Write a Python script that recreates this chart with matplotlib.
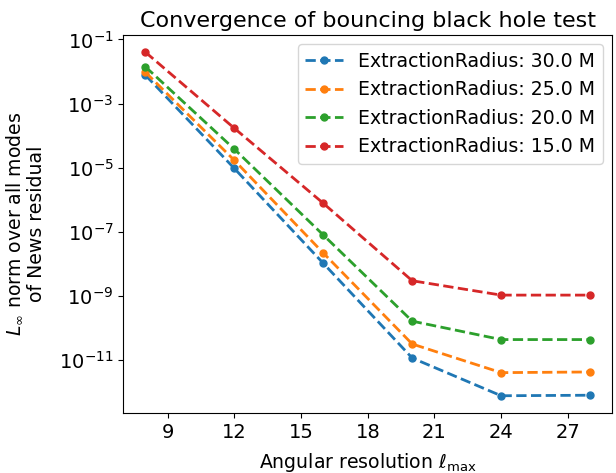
import matplotlib
matplotlib.use("Agg")
import matplotlib.pyplot as plt

plt.rcParams["font.size"] = 13.6
plt.rcParams["xtick.labelsize"] = 14
plt.rcParams["ytick.labelsize"] = 14

lmax = [8, 12, 16, 20, 24, 28]
radii = ["30.0", "25.0", "20.0", "15.0"]
residuals = {
    "30.0": [7.7e-3, 9.5e-6, 1.05e-8, 1.17e-11, 7.8e-13, 8.1e-13],
    "25.0": [9.5e-3, 1.7e-5, 2.2e-8, 3.2e-11, 4.1e-12, 4.3e-12],
    "20.0": [1.4e-2, 3.8e-5, 8.0e-8, 1.65e-10, 4.4e-11, 4.4e-11],
    "15.0": [4.0e-2, 1.7e-4, 7.8e-7, 3.0e-9, 1.07e-9, 1.07e-9],
}

fig = plt.figure(figsize=(6.16, 4.73), dpi=100)
ax = fig.add_subplot(111)
fig.subplots_adjust(left=0.2, right=0.994, top=0.926, bottom=0.127)

for r in radii:
    ax.plot(lmax, residuals[r], "o--", lw=2, ms=5, label="ExtractionRadius: " + r + " M")

ax.set_yscale("log")
ax.set_xticks([9, 12, 15, 18, 21, 24, 27])
ax.set_yticks([1e-1, 1e-3, 1e-5, 1e-7, 1e-9, 1e-11])
ax.minorticks_off()
ax.set_title("Convergence of bouncing black hole test", fontsize=16)
ax.set_xlabel(r"Angular resolution $\ell_\mathrm{max}$", labelpad=7)
ax.set_ylabel("$L_\\infty$ norm over all modes\nof News residual", labelpad=9)
ax.legend(loc="upper right")

fig.savefig("out.png", dpi=100)
